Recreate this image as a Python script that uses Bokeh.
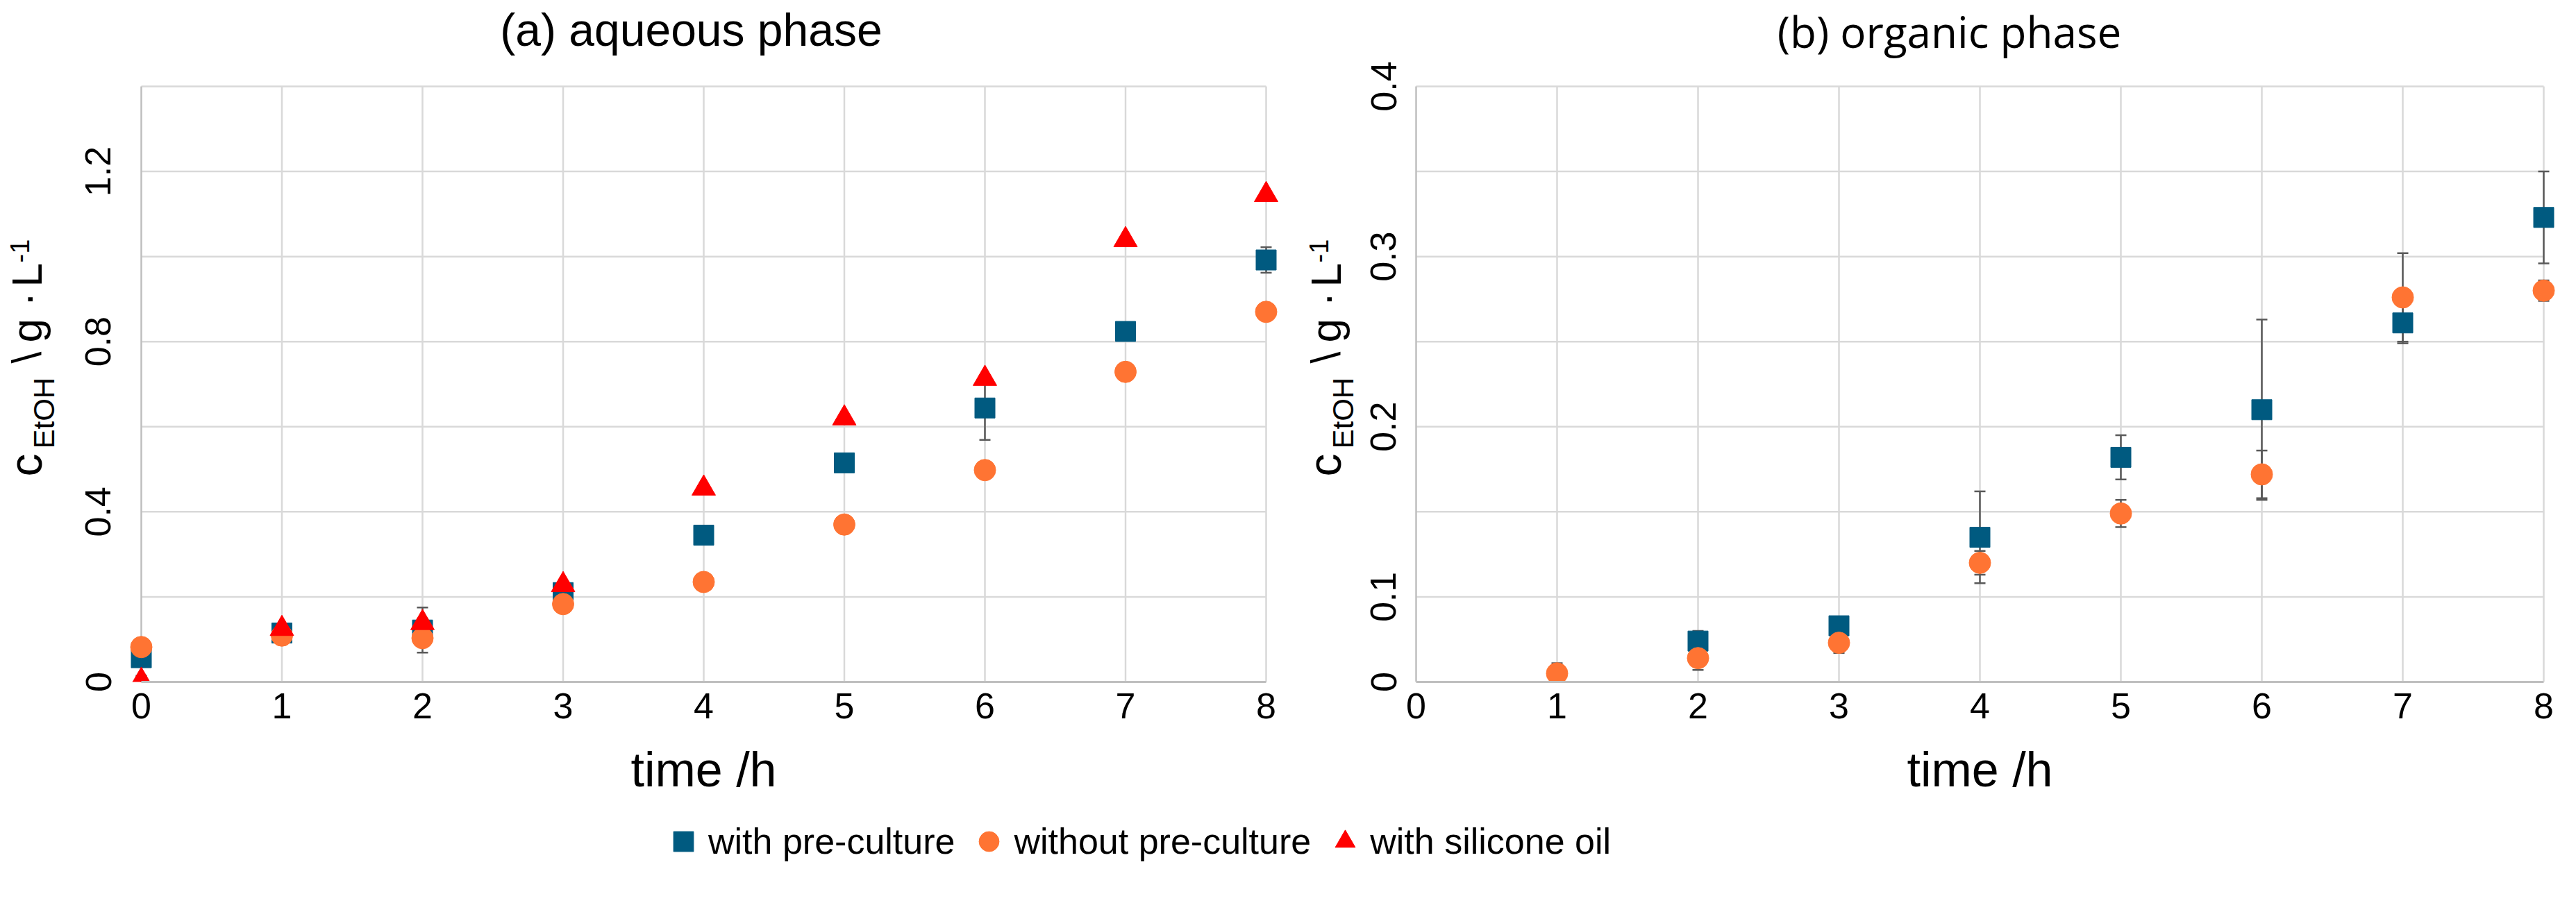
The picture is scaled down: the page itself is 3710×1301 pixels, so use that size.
import math
import numpy as np
from bokeh.plotting import figure
from bokeh.models import FixedTicker, Label, Legend, LegendItem, Range1d
from bokeh.layouts import column, row
from bokeh.embed import file_html
from bokeh.resources import INLINE
from bokeh.core.properties import value

nan = float("nan")

# ------------------------------------------------------------------ data
time_aq = [0, 1, 2, 3, 4, 5, 6, 7, 8]
aq_with_pre = [0.057, 0.115, 0.122, 0.210, 0.345, 0.515, 0.644, 0.824, 0.992]
aq_with_pre_err = [0.008, 0.020, 0.053, 0.012, 0.010, 0.020, 0.075, 0.010, 0.030]
aq_without_pre = [0.082, 0.109, 0.103, 0.183, 0.235, 0.370, 0.498, 0.729, 0.870]
aq_without_pre_err = [0.005, 0.005, 0.010, 0.005, 0.005, 0.005, 0.005, 0.005, 0.005]
aq_silicone = [0.003, 0.125, 0.139, 0.228, 0.455, 0.620, 0.713, 1.039, 1.145]
aq_silicone_err = [0.012, 0.010, 0.010, 0.008, 0.005, 0.005, 0.005, 0.005, 0.005]

time_org = [1, 2, 3, 4, 5, 6, 7, 8]
org_with_pre = [nan, 0.074, 0.083, 0.135, 0.182, 0.210, 0.261, 0.323]
org_with_pre_err = [nan, 0.006, 0.003, 0.027, 0.013, 0.053, 0.012, 0.027]
org_without_pre = [0.055, 0.064, 0.073, 0.120, 0.149, 0.172, 0.276, 0.280]
org_without_pre_err = [0.006, 0.007, 0.006, 0.007, 0.008, 0.014, 0.026, 0.006]

x_ticks = [0, 1, 2, 3, 4, 5, 6, 7, 8]
aq_y_ticks = [0, 0.4, 0.8, 1.2]
aq_y_labels = ["0", "0.4", "0.8", "1.2"]
aq_y_grid = [0, 0.2, 0.4, 0.6, 0.8, 1.0, 1.2, 1.4]
org_y_ticks = [0.05, 0.1, 0.2, 0.3, 0.4]
org_y_labels = ["0", "0.1", "0.2", "0.3", "0.4"]
org_y_grid = [0.05, 0.1, 0.15, 0.2, 0.25, 0.3, 0.35, 0.4]

series_names = ["with pre-culture", "without pre-culture", "with silicone oil"]
panel_titles = ["(a) aqueous phase", "(b) organic phase"]
x_title = "time /h"
y_title_parts = ["c", "EtOH", "\\", "g", "\u00b7", "L", "-1"]

# ------------------------------------------------------------------ style / layout
FONT = "Liberation Sans"
C_PRE = "#005A80"
C_WO = "#FF7433"
C_SIL = "#FF0000"
GRID = "#D9D9D9"
AXIS = "#BFBFBF"
ERR = "#595959"

PAD_X = 20            # room for markers beyond x = 0 / 8
VIS_TOP_PAGE = 132    # page y of the top grid line
VIS_BOTTOM_PAGE = 990 # page y of the x axis
PAD_TOP = VIS_TOP_PAGE - 8   # frame reaches the top of the figure (titles live there)
VIS_H = VIS_BOTTOM_PAGE - VIS_TOP_PAGE
BORDER_BOTTOM = 185


def make_panel(vis_w, vis_left_page, y_lo, y_hi, y_ticks, y_labels, y_grid, border_left,
               border_right, ylab_standoff, title, title_font, title_size, title_cx, title_cy):
    ppx = vis_w / 8.0
    ppy = VIS_H / (y_hi - y_lo)
    p = figure(frame_width=vis_w + 2 * PAD_X, frame_height=VIS_H + PAD_TOP,
               x_range=Range1d(-PAD_X / ppx, 8 + PAD_X / ppx),
               y_range=Range1d(y_lo, y_hi + PAD_TOP / ppy),
               min_border_left=border_left, min_border_right=border_right,
               min_border_top=0, min_border_bottom=BORDER_BOTTOM,
               toolbar_location=None, tools="", output_backend="svg")
    p.outline_line_color = None
    p.xgrid.visible = False
    p.ygrid.visible = False
    p.background_fill_color = "white"
    p.border_fill_color = "white"

    # panel title (inside the frame, above the plotted area)
    p.add_layout(Label(x=(title_cx - vis_left_page) / ppx,
                       y=y_lo + (VIS_BOTTOM_PAGE - title_cy) / ppy,
                       text=title, text_align="center", text_baseline="middle",
                       text_font=title_font, text_font_size=title_size, text_color="black"))

    # grid lines
    hy = [g for g in y_grid if g != y_lo]
    p.segment(x0=[x_ticks[0]] * len(hy), x1=[x_ticks[-1]] * len(hy), y0=hy, y1=hy,
              line_color=GRID, line_width=2.5)
    p.segment(x0=x_ticks[1:], x1=x_ticks[1:], y0=[y_lo] * (len(x_ticks) - 1),
              y1=[y_hi] * (len(x_ticks) - 1), line_color=GRID, line_width=2.5)
    p.segment(x0=[x_ticks[0]], x1=[x_ticks[0]], y0=[y_lo], y1=[y_hi],
              line_color=AXIS, line_width=2.5)

    xa = p.xaxis[0]
    xa.ticker = FixedTicker(ticks=x_ticks)
    xa.bounds = (x_ticks[0], x_ticks[-1])
    xa.axis_line_color = AXIS
    xa.axis_line_width = 3
    xa.major_tick_line_color = None
    xa.minor_tick_line_color = None
    xa.major_label_text_font = FONT
    xa.major_label_text_font_size = "52px"
    xa.major_label_text_color = "black"
    xa.major_label_standoff = 10
    xa.axis_label = x_title
    xa.axis_label_text_font = FONT
    xa.axis_label_text_font_size = "70px"
    xa.axis_label_text_font_style = "normal"
    xa.axis_label_text_color = "black"
    xa.axis_label_standoff = 32

    ya = p.yaxis[0]
    ya.ticker = FixedTicker(ticks=y_ticks)
    ya.major_label_overrides = {t: l for t, l in zip(y_ticks, y_labels)}
    ya.axis_line_color = None
    ya.major_tick_line_color = None
    ya.minor_tick_line_color = None
    ya.major_label_orientation = "vertical"
    ya.major_label_text_font = FONT
    ya.major_label_text_font_size = "52px"
    ya.major_label_text_color = "black"
    ya.major_label_standoff = ylab_standoff
    return p, ppy


def add_errors(p, t, y, e):
    y = np.array(y, dtype=float)
    e = np.array(e, dtype=float)
    lo, hi = y - e, y + e
    p.segment(x0=t, x1=t, y0=lo, y1=hi, line_color=ERR, line_width=2.5)
    p.scatter(t, lo, marker="dash", size=16, line_color=ERR, line_width=2.5)
    p.scatter(t, hi, marker="dash", size=16, line_color=ERR, line_width=2.5)


def y_title_fig(width, page_left, panel, y_lo, ppy, base_main, base_sub, base_sup):
    """Narrow strip left of a panel (same vertical layout and y range) carrying the
    composed, rotated y-axis title."""
    f = figure(frame_width=width, frame_height=VIS_H + PAD_TOP,
               x_range=Range1d(0, width), y_range=panel.y_range,
               x_axis_location=None, y_axis_location=None,
               min_border_left=0, min_border_right=0, min_border_top=0,
               min_border_bottom=BORDER_BOTTOM,
               toolbar_location=None, tools="", output_backend="svg")
    f.outline_line_color = None
    f.xgrid.visible = False
    f.ygrid.visible = False
    f.background_fill_color = "white"
    f.border_fill_color = "white"
    # (text, baseline x on page, start y on page, advance width in em, font size px)
    spec = [(y_title_parts[0], base_main, 694, 0.500, 66),
            (y_title_parts[1], base_sub, 654, 2.445, 42),
            (y_title_parts[2], base_main, 531, 0.278, 60),
            (y_title_parts[3], base_main, 501, 0.556, 62),
            (y_title_parts[4], base_main, 449, 0.333, 62),
            (y_title_parts[5], base_main, 421, 0.556, 62),
            (y_title_parts[6], base_sup, 386, 0.889, 38)]
    for txt, bx, sy, em, fs in spec:
        cy = sy - em * fs / 2.0          # centre along the (upward running) text
        cx = bx - 0.3465 * fs            # centre across it, from the baseline
        f.text(x=[cx - page_left], y=[y_lo + (VIS_BOTTOM_PAGE - cy) / ppy], text=[txt],
               angle=math.pi / 2, text_align="center", text_baseline="middle",
               text_font=value(FONT), text_font_size=value("%dpx" % fs), text_color="black")
    return f


# ------------------------------------------------------------------ (a) aqueous
ya_w = 100
pa, ppy_a = make_panel(1620, 211, 0.0, 1.4, aq_y_ticks, aq_y_labels, aq_y_grid, 183 - ya_w, 0, 18,
                       panel_titles[0], FONT, "66px", 1003, 50)
add_errors(pa, time_aq, aq_with_pre, aq_with_pre_err)
add_errors(pa, time_aq, aq_without_pre, aq_without_pre_err)
add_errors(pa, time_aq, aq_silicone, aq_silicone_err)
pa.scatter(time_aq, aq_with_pre, marker="square", size=29, fill_color=C_PRE, line_color=C_PRE)
pa.scatter(time_aq, aq_without_pre, marker="circle", size=31, fill_color=C_WO, line_color=C_WO)
pa.scatter(time_aq, aq_silicone, marker="triangle", size=34, fill_color=C_SIL, line_color=C_SIL)
fa = y_title_fig(ya_w, 8, pa, 0.0, ppy_a, 67, 86, 49)

# ------------------------------------------------------------------ (b) organic
yb_w = 115
pa_w = (183 - ya_w) + 1620 + 2 * PAD_X
pb_left_border = 2019 - (ya_w + pa_w + yb_w)
pb, ppy_b = make_panel(1624, 2047, 0.05, 0.4, org_y_ticks, org_y_labels, org_y_grid,
                       pb_left_border, 5, 3, panel_titles[1], "Open Sans", "62px", 2815, 52)
add_errors(pb, time_org, org_with_pre, org_with_pre_err)
add_errors(pb, time_org, org_without_pre, org_without_pre_err)
pb.scatter(time_org, org_with_pre, marker="square", size=29, fill_color=C_PRE, line_color=C_PRE)
pb.scatter(time_org, org_without_pre, marker="circle", size=31, fill_color=C_WO, line_color=C_WO)
fb = y_title_fig(yb_w, 8 + ya_w + pa_w, pb, 0.05, ppy_b, 1938, 1957, 1920)

# ------------------------------------------------------------------ legend strip
total_w = ya_w + pa_w + yb_w + pb_left_border + 1624 + 2 * PAD_X + 5
LEG_H = 100
pl = figure(width=total_w, height=LEG_H, x_range=(0, 1), y_range=(0, 1),
            x_axis_location=None, y_axis_location=None, min_border=0,
            toolbar_location=None, tools="", output_backend="svg")
pl.outline_line_color = None
pl.xgrid.visible = False
pl.ygrid.visible = False
r1 = pl.scatter(x=[nan], y=[nan], marker="square", fill_color=C_PRE, line_color=C_PRE)
r2 = pl.scatter(x=[nan], y=[nan], marker="circle", fill_color=C_WO, line_color=C_WO)
r3 = pl.scatter(x=[nan], y=[nan], marker="triangle", fill_color=C_SIL, line_color=C_SIL)
legend = Legend(items=[LegendItem(label=series_names[0], renderers=[r1]),
                       LegendItem(label=series_names[1], renderers=[r2]),
                       LegendItem(label=series_names[2], renderers=[r3])],
                orientation="horizontal", location=(948, 19),
                glyph_width=72, glyph_height=72, label_standoff=0, spacing=13,
                padding=0, margin=0, border_line_color=None, background_fill_alpha=0,
                label_text_font=FONT, label_text_font_size="52px", label_text_color="black")
pl.add_layout(legend)

layout = column(row(fa, pa, fb, pb, spacing=0), pl, spacing=0)
open("out.html", "w").write(file_html(layout, INLINE))
